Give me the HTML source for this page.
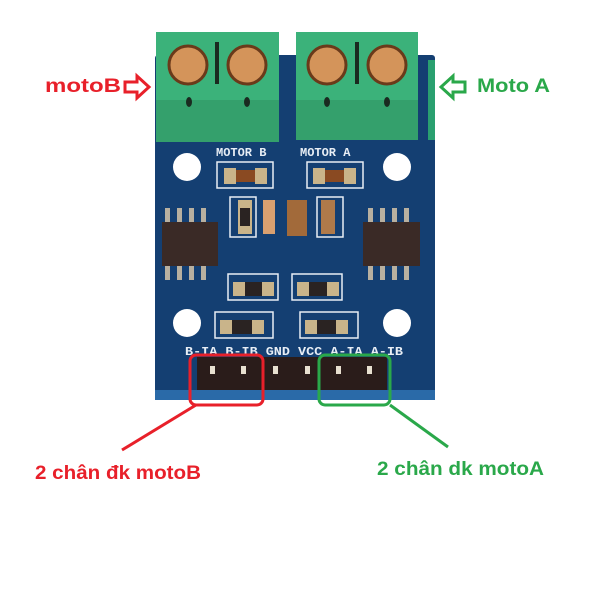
<!DOCTYPE html>
<html><head><style>body{margin:0;background:#fff}svg{display:block}</style></head><body>
<svg width="600" height="600" viewBox="0 0 600 600" xmlns="http://www.w3.org/2000/svg" font-family="Liberation Sans, sans-serif">
<rect width="600" height="600" fill="#fff"/>
<rect x="155" y="55" width="280" height="345" rx="3" fill="#143f72"/>
<rect x="155" y="390" width="280" height="10" fill="#2a6aa8"/>
<g stroke="#e8eef5" stroke-width="1.5" fill="none">
<rect x="217" y="162" width="56" height="26"/><rect x="307" y="162" width="56" height="26"/>
<rect x="230" y="197" width="26" height="40"/><rect x="317" y="197" width="26" height="40"/>
<rect x="228" y="274" width="50" height="26"/><rect x="292" y="274" width="50" height="26"/>
<rect x="215" y="312" width="58" height="26"/><rect x="300" y="312" width="58" height="26"/>
</g>
<g fill="#c9b48a"><rect x="224" y="168" width="12" height="16"/><rect x="255" y="168" width="12" height="16"/><rect x="313" y="168" width="12" height="16"/><rect x="344" y="168" width="12" height="16"/>
<rect x="233" y="282" width="12" height="14"/><rect x="262" y="282" width="12" height="14"/><rect x="297" y="282" width="12" height="14"/><rect x="327" y="282" width="12" height="14"/>
<rect x="220" y="320" width="12" height="14"/><rect x="252" y="320" width="12" height="14"/><rect x="305" y="320" width="12" height="14"/><rect x="336" y="320" width="12" height="14"/></g>
<rect x="236" y="170" width="19" height="12" fill="#8a4a22"/><rect x="325" y="170" width="19" height="12" fill="#8a4a22"/>
<rect x="238" y="200" width="14" height="34" fill="#c9b48a"/><rect x="240" y="208" width="10" height="18" fill="#2a2322"/>
<rect x="263" y="200" width="12" height="34" fill="#d9a070"/>
<rect x="287" y="200" width="20" height="36" fill="#a26a3a"/>
<rect x="321" y="200" width="14" height="34" fill="#b07a4a"/>
<rect x="245" y="282" width="17" height="14" fill="#2a2322"/><rect x="309" y="282" width="18" height="14" fill="#2a2322"/>
<rect x="232" y="320" width="20" height="14" fill="#2a2322"/><rect x="317" y="320" width="19" height="14" fill="#2a2322"/>
<g fill="#b8b0a0"><rect x="165" y="208" width="5" height="16"/><rect x="177" y="208" width="5" height="16"/><rect x="189" y="208" width="5" height="16"/><rect x="201" y="208" width="5" height="16"/>
<rect x="165" y="264" width="5" height="16"/><rect x="177" y="264" width="5" height="16"/><rect x="189" y="264" width="5" height="16"/><rect x="201" y="264" width="5" height="16"/>
<rect x="368" y="208" width="5" height="16"/><rect x="380" y="208" width="5" height="16"/><rect x="392" y="208" width="5" height="16"/><rect x="404" y="208" width="5" height="16"/>
<rect x="368" y="264" width="5" height="16"/><rect x="380" y="264" width="5" height="16"/><rect x="392" y="264" width="5" height="16"/><rect x="404" y="264" width="5" height="16"/></g>
<rect x="162" y="222" width="56" height="44" fill="#3a2a26"/><rect x="363" y="222" width="57" height="44" fill="#3a2a26"/>
<g fill="#fff"><circle cx="187" cy="167" r="14"/><circle cx="397" cy="167" r="14"/><circle cx="187" cy="323" r="14"/><circle cx="397" cy="323" r="14"/></g>
<rect x="156" y="32" width="123" height="110" fill="#3bb27a"/><rect x="296" y="32" width="122" height="108" fill="#3bb27a"/>
<rect x="156" y="100" width="123" height="42" fill="#34a06c"/><rect x="296" y="100" width="122" height="40" fill="#34a06c"/>
<rect x="215" y="42" width="4" height="42" fill="#1a2a20"/><rect x="355" y="42" width="4" height="42" fill="#1a2a20"/>
<g fill="#d4945a" stroke="#6a3a1a" stroke-width="3"><circle cx="188" cy="65" r="19"/><circle cx="247" cy="65" r="19"/><circle cx="327" cy="65" r="19"/><circle cx="387" cy="65" r="19"/></g>
<g fill="#1a2a20"><ellipse cx="189" cy="102" rx="3" ry="5"/><ellipse cx="247" cy="102" rx="3" ry="5"/><ellipse cx="327" cy="102" rx="3" ry="5"/><ellipse cx="387" cy="102" rx="3" ry="5"/></g>
<rect x="428" y="60" width="7" height="80" fill="#2aa070"/>
<g fill="#e8eef5" font-size="12" font-family="Liberation Mono, monospace" font-weight="bold">
<text x="216" y="156">MOTOR B</text><text x="300" y="156">MOTOR A</text>
<text x="185" y="355" font-size="11.5" textLength="218" lengthAdjust="spacingAndGlyphs">B-IA B-IB GND VCC A-IA A-IB</text></g>
<rect x="197" y="357" width="190" height="33" fill="#2a1c1a"/>
<g fill="#e8e0d0"><rect x="210" y="366" width="5" height="8"/><rect x="241" y="366" width="5" height="8"/><rect x="273" y="366" width="5" height="8"/><rect x="305" y="366" width="5" height="8"/><rect x="336" y="366" width="5" height="8"/><rect x="367" y="366" width="5" height="8"/></g>
<rect x="190" y="355" width="73" height="50" rx="6" fill="none" stroke="#e8202a" stroke-width="3"/>
<rect x="319" y="355" width="71" height="50" rx="6" fill="none" stroke="#2aa84a" stroke-width="3"/>
<line x1="196" y1="405" x2="122" y2="450" stroke="#e8202a" stroke-width="3"/>
<line x1="390" y1="405" x2="448" y2="447" stroke="#2aa84a" stroke-width="3"/>
<path d="M125,82 h12 v-6 l12,11 l-12,11 v-6 h-12z" fill="#fff" stroke="#e8202a" stroke-width="3"/>
<path d="M465,82 h-12 v-6 l-12,11 l12,11 v-6 h12z" fill="#fff" stroke="#2aa84a" stroke-width="3"/>
<g font-weight="bold" font-size="19">
<text x="45" y="92" fill="#e8202a" textLength="76" lengthAdjust="spacingAndGlyphs">motoB</text>
<text x="477" y="92" fill="#2aa84a" textLength="73" lengthAdjust="spacingAndGlyphs">Moto A</text>
<text x="35" y="479" fill="#e8202a" textLength="166" lengthAdjust="spacingAndGlyphs">2 chân đk motoB</text>
<text x="377" y="475" fill="#2aa84a" textLength="167" lengthAdjust="spacingAndGlyphs">2 chân dk motoA</text></g>
</svg>
</body></html>
